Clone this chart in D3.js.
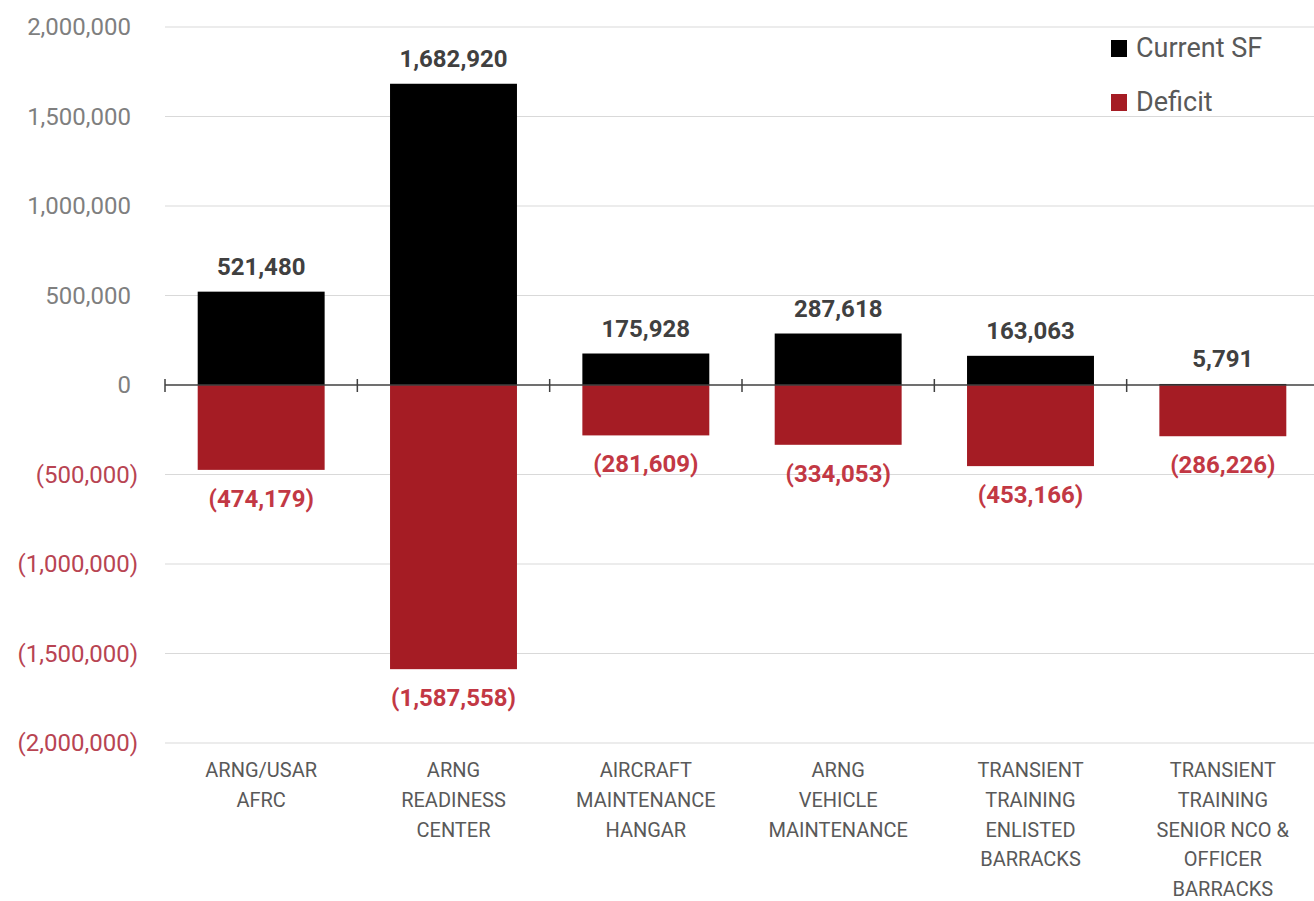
<!doctype html>
<html lang="en">
<head>
<meta charset="utf-8">
<title>Current SF vs Deficit</title>
<style>
  body { margin: 0; background: #fff; }
  svg { display: block; font-family: Roboto, "Liberation Sans", Arial, sans-serif; }
</style>
</head>
<body>
<svg class="chart"></svg>
<script src="https://d3js.org/d3.v7.min.js"></script>
<script>
// data
var categories = [
  ["ARNG/USAR", "AFRC"],
  ["ARNG", "READINESS", "CENTER"],
  ["AIRCRAFT", "MAINTENANCE", "HANGAR"],
  ["ARNG", "VEHICLE", "MAINTENANCE"],
  ["TRANSIENT", "TRAINING", "ENLISTED", "BARRACKS"],
  ["TRANSIENT", "TRAINING", "SENIOR NCO &", "OFFICER", "BARRACKS"]
];
var currentSF = [521480, 1682920, 175928, 287618, 163063, 5791];
var deficit = [-474179, -1587558, -281609, -334053, -453166, -286226];
var yTicks = [2000000, 1500000, 1000000, 500000, 0, -500000, -1000000, -1500000, -2000000];
var seriesNames = ["Current SF", "Deficit"];
var seriesColors = ["#000000", "#a51c24"];

var width = 1314, height = 901;
var plotLeft = 165, plotRight = 1319, plotTop = 27, plotBottom = 743;

var svg = d3.select(".chart").attr("width", width).attr("height", height);

var keys = categories.map(function(d, i) { return i; });
var x = d3.scaleBand().domain(keys).range([plotLeft, plotRight]).padding(0);
var y = d3.scaleLinear().domain([-2000000, 2000000]).range([plotBottom, plotTop]);

var fmt = d3.format(",");
function acct(v) { return v < 0 ? "(" + fmt(-v) + ")" : fmt(v); }

// gridlines
svg.append("g").selectAll("line")
  .data(yTicks.filter(function(d) { return d !== 0; }))
  .enter().append("line")
  .attr("x1", plotLeft).attr("x2", width)
  .attr("y1", function(d) { return y(d); })
  .attr("y2", function(d) { return y(d); })
  .attr("stroke", "#d9d9d9").attr("stroke-width", 1.2);

// y tick labels
svg.append("g").selectAll("text")
  .data(yTicks)
  .enter().append("text")
  .attr("x", function(d) { return d < 0 ? 138 : 131; })
  .attr("y", function(d) { return y(d); })
  .attr("dy", "0.35em")
  .attr("text-anchor", "end")
  .attr("font-size", 24)
  .attr("fill", function(d) { return d < 0 ? "#b84452" : "#7f7f7f"; })
  .text(acct);

var bw = x.bandwidth() * 0.66;
var off = (x.bandwidth() - bw) / 2;

// bars
var g = svg.append("g");
g.selectAll("rect.cur")
  .data(currentSF)
  .enter().append("rect").attr("class", "cur")
  .attr("x", function(d, i) { return x(i) + off; })
  .attr("width", bw)
  .attr("y", function(d) { return y(d); })
  .attr("height", function(d) { return y(0) - y(d); })
  .attr("fill", seriesColors[0]);

g.selectAll("rect.def")
  .data(deficit)
  .enter().append("rect").attr("class", "def")
  .attr("x", function(d, i) { return x(i) + off; })
  .attr("width", bw)
  .attr("y", y(0))
  .attr("height", function(d) { return y(d) - y(0); })
  .attr("fill", seriesColors[1]);

// zero axis with category ticks
var axis = svg.append("g");
axis.append("line")
  .attr("x1", plotLeft).attr("x2", width)
  .attr("y1", y(0)).attr("y2", y(0))
  .attr("stroke", "#404040").attr("stroke-width", 1.5);
axis.selectAll("line.tick")
  .data(keys)
  .enter().append("line").attr("class", "tick")
  .attr("x1", function(d) { return x(d); })
  .attr("x2", function(d) { return x(d); })
  .attr("y1", y(0) - 6).attr("y2", y(0) + 7)
  .attr("stroke", "#404040").attr("stroke-width", 1.5);

// value labels
svg.append("g").selectAll("text")
  .data(currentSF)
  .enter().append("text")
  .attr("x", function(d, i) { return x(i) + x.bandwidth() / 2; })
  .attr("y", function(d) { return y(d) - 17; })
  .attr("text-anchor", "middle")
  .attr("font-size", 24).attr("font-weight", "bold")
  .attr("fill", "#404040")
  .text(acct);

svg.append("g").selectAll("text")
  .data(deficit)
  .enter().append("text")
  .attr("x", function(d, i) { return x(i) + x.bandwidth() / 2; })
  .attr("y", function(d) { return y(d) + 37; })
  .attr("text-anchor", "middle")
  .attr("font-size", 24).attr("font-weight", "bold")
  .attr("fill", "#c23844")
  .text(acct);

// category labels
var cat = svg.append("g").selectAll("text")
  .data(categories)
  .enter().append("text")
  .attr("text-anchor", "middle")
  .attr("font-size", 20)
  .attr("fill", "#595959");
cat.selectAll("tspan")
  .data(function(d, i) { return d.map(function(s) { return { s: s, i: i }; }); })
  .enter().append("tspan")
  .attr("x", function(d) { return x(d.i) + x.bandwidth() / 2; })
  .attr("y", function(d, j) { return 777 + j * 29.8; })
  .text(function(d) { return d.s; });

// legend
var leg = svg.append("g").selectAll("g")
  .data(seriesNames)
  .enter().append("g")
  .attr("transform", function(d, i) { return "translate(1111," + (48 + i * 54) + ")"; });
leg.append("rect")
  .attr("x", 0).attr("y", -8).attr("width", 16).attr("height", 17)
  .attr("fill", function(d, i) { return seriesColors[i]; });
leg.append("text")
  .attr("x", 25).attr("dy", "0.35em")
  .attr("font-size", 27)
  .attr("fill", "#595959")
  .text(function(d) { return d; });
</script>
</body>
</html>
